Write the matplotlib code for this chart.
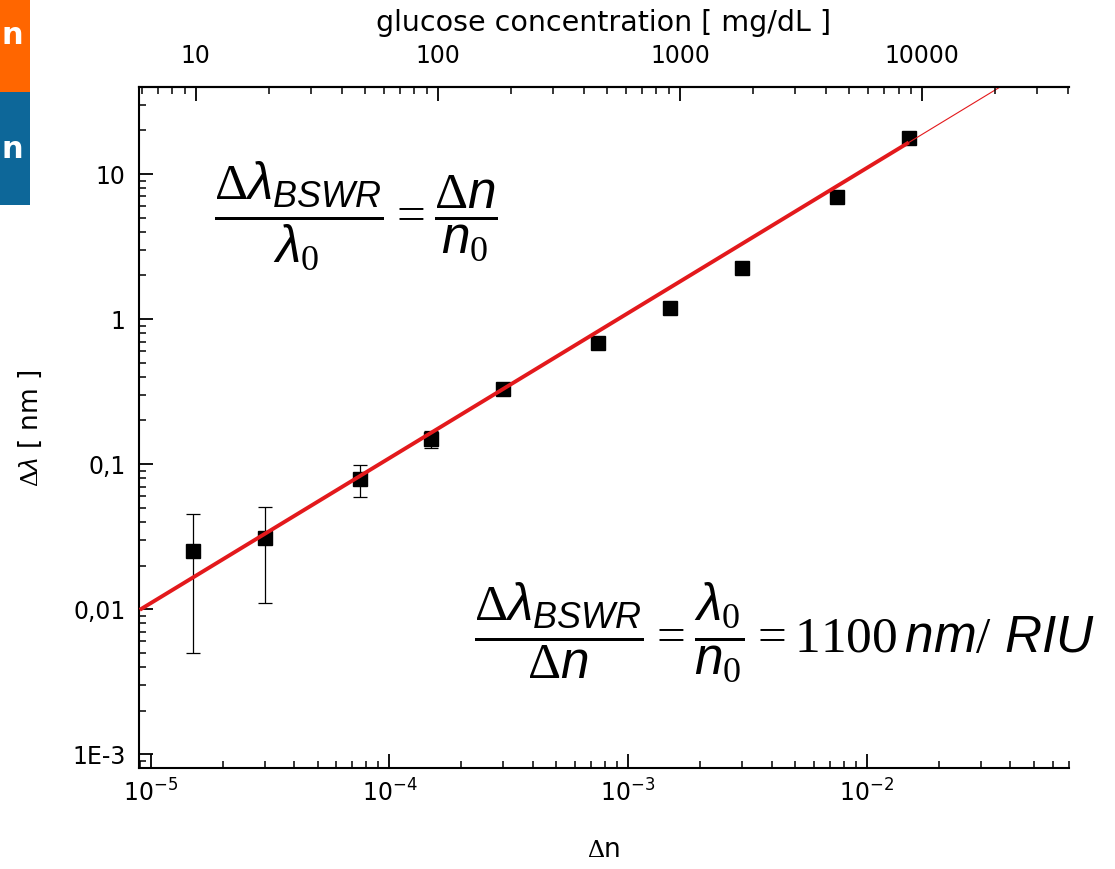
import numpy as np
import matplotlib.pyplot as plt
from matplotlib.patches import Rectangle
from matplotlib.ticker import LogLocator, NullFormatter, FixedLocator, FixedFormatter

plt.rcParams["font.family"] = "DejaVu Sans"
plt.rcParams["mathtext.fontset"] = "custom"
plt.rcParams["mathtext.rm"] = "Liberation Serif"
plt.rcParams["mathtext.it"] = "Liberation Sans:italic"
plt.rcParams["mathtext.sf"] = "DejaVu Sans"

# measured points (refractive index change vs. resonance shift)
delta_n = [1.5e-5, 3e-5, 7.5e-5, 1.5e-4, 3e-4, 7.5e-4, 1.5e-3, 3e-3, 7.5e-3, 1.5e-2]
delta_lambda = [0.025, 0.031, 0.079, 0.15, 0.33, 0.68, 1.2, 2.25, 6.9, 17.7]
lambda_err = [0.02, 0.02, 0.02, 0.02, 0.02, 0.02, 0.02, 0.02, 0.02, 0.02]

# linear fit, 1100 nm/RIU
sensitivity = 1100
fit_range = [9e-6, 1.5e-2]
ext_range = [1.5e-2, 4e-2]

y_ticks = [1e-3, 1e-2, 0.1, 1, 10]
y_ticklabels = ["1E-3", "0,01", "0,1", "1", "10"]
x_ticks = [1e-5, 1e-4, 1e-3, 1e-2]
x_ticklabels = [r"$\mathsf{10^{-5}}$", r"$\mathsf{10^{-4}}$", r"$\mathsf{10^{-3}}$", r"$\mathsf{10^{-2}}$"]
glucose_ticks = [10, 100, 1000, 10000]
glucose_ticklabels = ["10", "100", "1000", "10000"]

W, H = 1115, 869
fig = plt.figure(figsize=(W / 100, H / 100), dpi=100)
ax = fig.add_axes([139.3 / W, 1 - 768.3 / H, (1068.5 - 139.3) / W, (768.3 - 87.3) / H])

red = "#e3191c"
fx = np.array(fit_range)
ex = np.array(ext_range)
ax.plot(fx, sensitivity * fx, color=red, lw=2.8, zorder=3, solid_capstyle="butt")
ax.plot(ex, sensitivity * ex, color=red, lw=0.8, zorder=3)
ax.errorbar(delta_n, delta_lambda, yerr=lambda_err, fmt="s", color="black",
            ms=10, capsize=5, elinewidth=0.9, capthick=0.9, zorder=2)

ax.set_xscale("log")
ax.set_yscale("log")
ax.set_xlim(8.96e-6, 7e-2)
ax.set_ylim(8e-4, 39.6)

ax.xaxis.set_major_locator(FixedLocator(x_ticks))
ax.xaxis.set_major_formatter(FixedFormatter(x_ticklabels))
ax.xaxis.set_minor_locator(LogLocator(base=10, subs=np.arange(2, 10)))
ax.xaxis.set_minor_formatter(NullFormatter())
ax.yaxis.set_major_locator(FixedLocator(y_ticks))
ax.yaxis.set_major_formatter(FixedFormatter(y_ticklabels))
ax.yaxis.set_minor_locator(LogLocator(base=10, subs=np.arange(2, 10)))
ax.yaxis.set_minor_formatter(NullFormatter())

ax.tick_params(which="both", direction="in", top=False, right=False, labelsize=17)
ax.tick_params(which="major", length=10, width=1.3)
ax.tick_params(which="minor", length=5, width=1.1)
ax.tick_params(axis="y", pad=10)
ax.tick_params(axis="x", pad=8)
for s in ["left", "bottom", "top"]:
    ax.spines[s].set_linewidth(1.5)
ax.spines["right"].set_visible(False)

ax.set_xlabel(r"$\Delta$n", fontsize=19, labelpad=22)
ax.set_ylabel(r"$\Delta\lambda$ [ nm ]", fontsize=19, labelpad=20)

# glucose axis on top
ax2 = ax.twiny()
ax2.set_xscale("log")
ax2.set_xlim(5.84, 4.03e4)
ax2.xaxis.set_major_locator(FixedLocator(glucose_ticks))
ax2.xaxis.set_major_formatter(FixedFormatter(glucose_ticklabels))
ax2.xaxis.set_minor_locator(LogLocator(base=10, subs=np.arange(2, 10)))
ax2.xaxis.set_minor_formatter(NullFormatter())
ax2.tick_params(which="both", direction="in", labelsize=17, pad=14)
ax2.tick_params(which="major", length=10, width=1.3)
ax2.tick_params(which="minor", length=5, width=1.1)
ax2.spines["top"].set_linewidth(1.5)
for s in ["left", "bottom", "right"]:
    ax2.spines[s].set_visible(False)
ax2.set_xlabel("glucose concentration [ mg/dL ]", fontsize=20.5, labelpad=9)

fig.text(356 / W, 1 - 216 / H,
         r"$\dfrac{\Delta\lambda_{BSWR}}{\lambda_0} = \dfrac{\Delta n}{n_0}$",
         fontsize=37, ha="center", va="center")
fig.text(785 / W, 1 - 632 / H,
         r"$\dfrac{\Delta\lambda_{BSWR}}{\Delta n} = \dfrac{\lambda_0}{n_0} = \mathrm{1100}\,nm/\ RIU$",
         fontsize=37, ha="center", va="center")

# slide remnants on the left edge
fig.add_artist(Rectangle((0, 1 - 92 / H), 30 / W, 92 / H, transform=fig.transFigure,
                         color="#ff6600", lw=0))
fig.add_artist(Rectangle((0, 1 - 205 / H), 30 / W, 113 / H, transform=fig.transFigure,
                         color="#0d6799", lw=0))
fig.text(2 / W, 1 - 35 / H, "n", color="white", fontsize=22, fontweight="bold",
         ha="left", va="center")
fig.text(2 / W, 1 - 150 / H, "n", color="white", fontsize=22, fontweight="bold",
         ha="left", va="center")

fig.savefig("out.png", dpi=100)
